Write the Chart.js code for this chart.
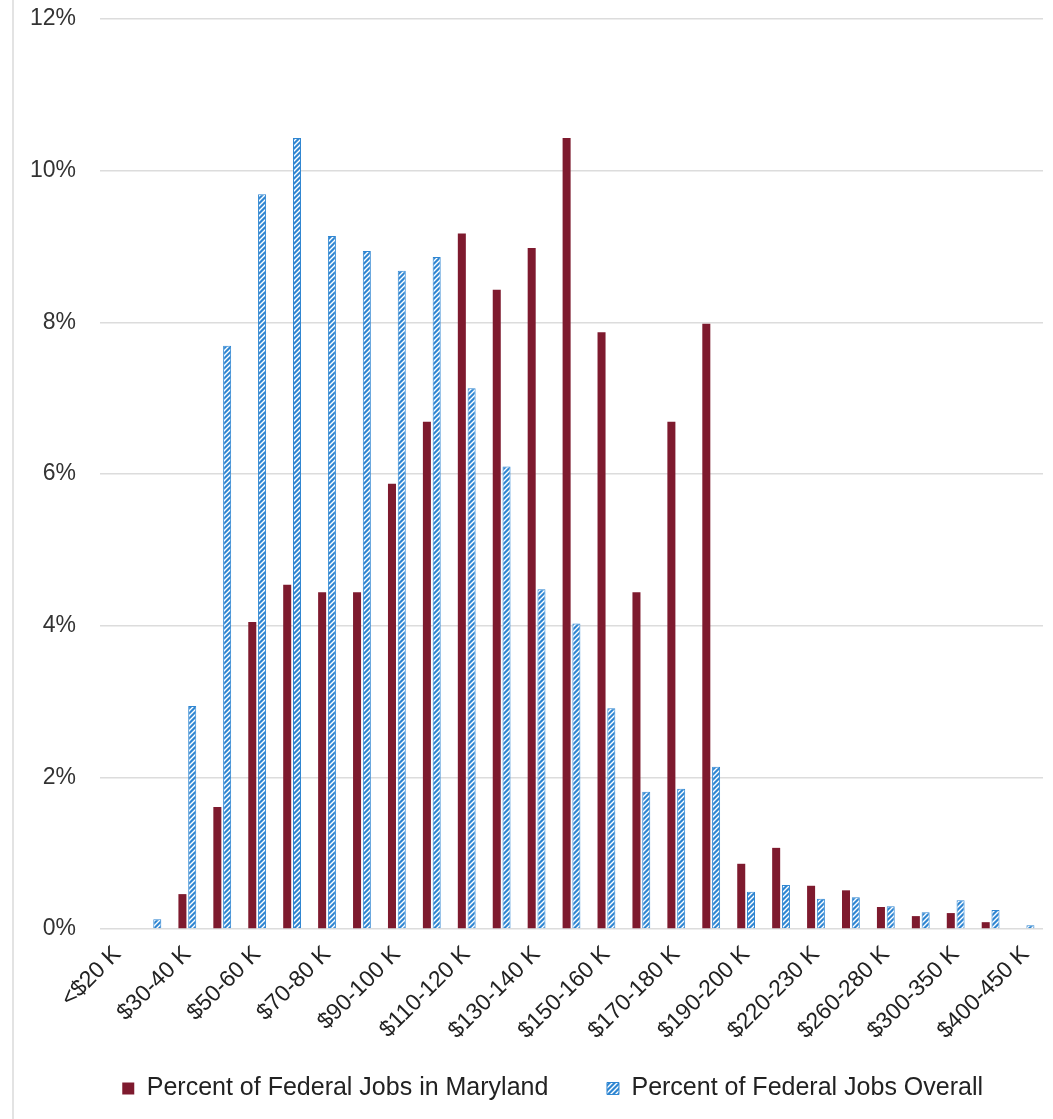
<!DOCTYPE html>
<html><head><meta charset="utf-8">
<script src="https://cdn.jsdelivr.net/npm/chart.js@4"></script>
<style>
html,body{margin:0;padding:0;background:#fff}
#wrap{width:1053px;height:1119px;position:relative}
#edge{position:absolute;left:12px;top:0;width:2px;height:1119px;background:#e3e3e3}
</style>
</head><body><div id="wrap"><div id="edge"></div><canvas id="c"></canvas></div>
<script>
const categories = ['<$20 K','$20-30 K','$30-40 K','$40-50 K','$50-60 K','$60-70 K','$70-80 K','$80-90 K','$90-100 K','$100-110 K','$110-120 K','$120-130 K','$130-140 K','$140-150 K','$150-160 K','$160-170 K','$170-180 K','$180-190 K','$190-200 K','$200-220 K','$220-230 K','$230-260 K','$260-280 K','$280-300 K','$300-350 K','$350-400 K','$400-450 K'];
const marylandPct = [0,0,0.46,1.61,4.05,4.54,4.44,4.44,5.87,6.69,9.17,8.43,8.98,10.43,7.87,4.44,6.69,7.98,0.86,1.07,0.57,0.51,0.29,0.17,0.21,0.09,0.01];
const overallPct  = [0,0.13,2.94,7.69,9.69,10.43,9.14,8.94,8.68,8.86,7.13,6.10,4.48,4.03,2.91,1.81,1.85,2.14,0.49,0.58,0.40,0.42,0.30,0.22,0.38,0.25,0.05];
const seriesNames = ['Percent of Federal Jobs in Maryland','Percent of Federal Jobs Overall'];
const yMin = 0, yMax = 12, yStep = 2;

const RED = '#7e1a2e', BLUE = '#2f86d2';
function makePattern(){
  const p = document.createElement('canvas');
  p.width = 5; p.height = 5;
  const g = p.getContext('2d');
  g.fillStyle = BLUE; g.fillRect(0,0,5,5);
  g.strokeStyle = '#ffffff'; g.lineWidth = 1.4;
  g.beginPath();
  g.moveTo(-1,6); g.lineTo(6,-1);
  g.moveTo(-1,1); g.lineTo(1,-1);
  g.moveTo(4,6); g.lineTo(6,4);
  g.stroke();
  return document.getElementById('c').getContext('2d').createPattern(p,'repeat');
}
const hatch = makePattern();
const FONT = "'Liberation Sans', Arial, sans-serif";

new Chart(document.getElementById('c'), {
  type: 'bar',
  data: {
    labels: categories,
    datasets: [
      {label: seriesNames[0], data: marylandPct, backgroundColor: RED, borderWidth: 0,
       categoryPercentage: 0.56, barPercentage: 0.82},
      {label: seriesNames[1], data: overallPct, backgroundColor: hatch, borderColor: BLUE, borderWidth: 1,
       categoryPercentage: 0.56, barPercentage: 0.82}
    ]
  },
  options: {
    responsive: true, maintainAspectRatio: false, animation: false,
    devicePixelRatio: 1,
    layout: {padding: {top: 19, right: 10, bottom: 8, left: 0}},
    plugins: {
      tooltip: {enabled: false},
      legend: {
        position: 'bottom',
        labels: {
          font: {family: FONT, size: 25}, color: '#222',
          boxWidth: 12, boxHeight: 12, padding: 10,
          generateLabels: function(chart){
            const items = Chart.defaults.plugins.legend.labels.generateLabels(chart);
            items[0].text = items[0].text + '       ';
            items[0].lineWidth = 0;
            items[1].lineWidth = 1;
            items.unshift({text: '    ', fillStyle: 'rgba(0,0,0,0)', strokeStyle: 'rgba(0,0,0,0)',
                           lineWidth: 0, hidden: false, datasetIndex: -1});
            return items;
          }
        },
        onClick: function(){}
      }
    },
    scales: {
      x: {
        grid: {display: false},
        border: {display: false},
        ticks: {
          autoSkip: false, minRotation: 45, maxRotation: 45,
          font: {family: FONT, size: 23}, color: '#222', padding: 4,
          callback: function(v, i){ return i % 2 === 0 ? this.getLabelForValue(v) : ''; }
        },
        afterFit: function(s){ s.height = 137; }
      },
      y: {
        min: yMin, max: yMax,
        grid: {color: '#dcdcdc', lineWidth: 1.5, drawTicks: false},
        border: {display: false},
        ticks: {
          stepSize: yStep, padding: 24,
          font: {family: FONT, size: 23}, color: '#333',
          callback: v => v + '%'
        },
        afterFit: function(s){ s.width = 100; s.paddingTop = 0; s.paddingBottom = 0; }
      }
    }
  }
});
</script>
</body></html>
